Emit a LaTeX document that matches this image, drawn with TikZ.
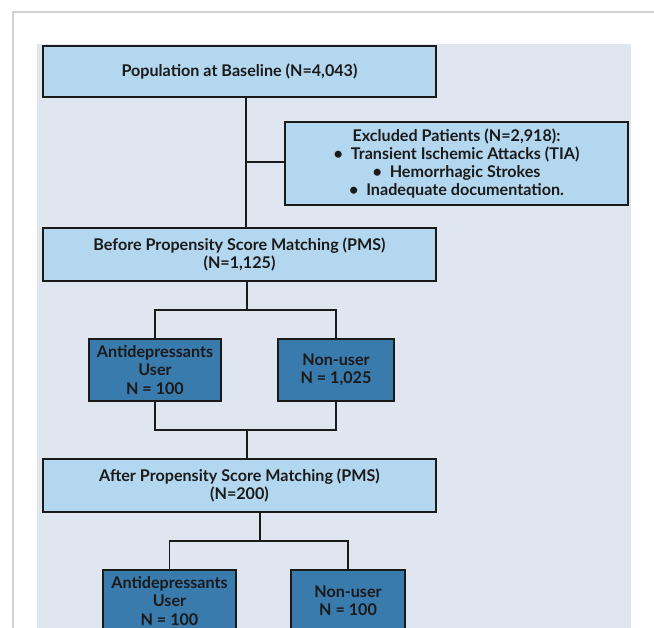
\documentclass[tikz,border=0pt]{standalone}
\usepackage{fontspec}
\setmainfont{Lato}
\usepackage{tikz}
\usetikzlibrary{positioning}
\definecolor{panel}{HTML}{DFE6F0}
\definecolor{lightbox}{HTML}{B4D7F0}
\definecolor{darkbox}{HTML}{3A7BAD}
\definecolor{frameline}{HTML}{D2D2D2}
\definecolor{ink}{HTML}{1A1A1A}

\begin{document}
\begin{tikzpicture}[x=0.75pt,y=-0.75pt,
    box/.style={draw=ink,line width=1.1pt,fill=lightbox,align=center,
      inner sep=0pt,text=ink,
      font=\bfseries\fontsize{12.1}{13.6}\selectfont},
    groupbox/.style={box,fill=darkbox,minimum height=46.5pt},
    link/.style={draw=ink,line width=1.1pt}]

  \useasboundingbox (0,0) rectangle (654,628);
  \clip (0,0) rectangle (654,628);

  \fill [white] (0,0) rectangle (654,628);
  \draw [frameline,line width=0.8pt] (13,640) -- (13,12) -- (660,12);
  \fill [panel] (37,44) rectangle (631,640);

  \node (base) [box,minimum width=294.75pt,minimum height=38.25pt]
        at (239.5,71.5) {Population at Baseline (N=4,043)};

  \node (excl) [box,minimum width=257.25pt,minimum height=62.25pt]
        at (456.5,163.5) {Excluded Patients (N=2,918):\\
          \textbullet~~Transient Ischemic Attacks (TIA)\\
          \textbullet~~Hemorrhagic Strokes\\
          \textbullet~~Inadequate documentation.};

  \node (before) [box,minimum width=294.75pt,minimum height=39.75pt]
        at (239.5,254.5) {Before Propensity Score Matching (PMS)\\
          (N=1,125)};

  \node (au1) [groupbox,minimum width=99pt] at (155,370)
        {Antidepressants\\ User\\ N = 100};
  \node (nu1) [groupbox,minimum width=87pt] at (336,370)
        {Non-user\\ N = 1,025};

  \node (after) [box,minimum width=294.75pt,minimum height=39.75pt]
        at (239.5,485.5) {After Propensity Score Matching (PMS)\\
          (N=200)};

  \node (au2) [groupbox,minimum width=99.75pt] at (169.5,601)
        {Antidepressants\\ User\\ N = 100};
  \node (nu2) [groupbox,minimum width=85.5pt] at (348,601)
        {Non-user\\ N = 100};

  \coordinate (t0) at (246,162);
  \draw [link] (base.south -| t0) -- (before.north -| t0);
  \draw [link] (t0) -- (excl.west |- t0);

  \coordinate (f1) at (247,310);
  \draw [link] (before.south -| f1) -- (f1);
  \draw [link] (au1.north) |- (f1) -| (nu1.north);

  \coordinate (j1) at (247,430);
  \draw [link] (au1.south) |- (j1) -| (nu1.south);
  \draw [link] (j1) -- (after.north -| j1);

  \coordinate (f2) at (260,541);
  \draw [link] (after.south -| f2) -- (f2);
  \draw [link] (au2.north) |- (f2) -| (nu2.north);

\end{tikzpicture}
\end{document}
